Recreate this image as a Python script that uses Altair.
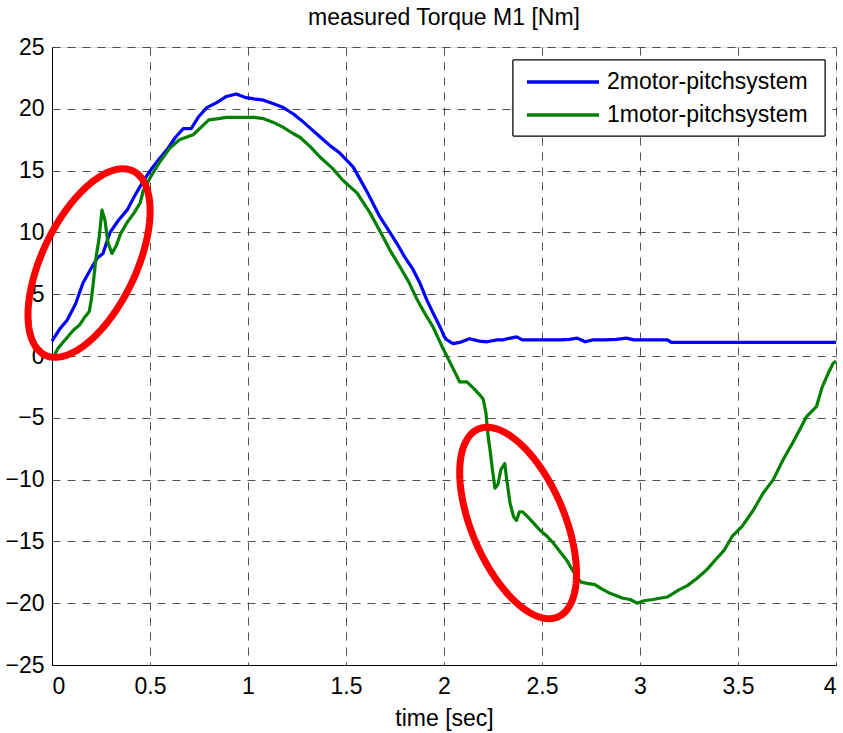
import altair as alt
import numpy as np
import pandas as pd

# Measured torque of motor M1, read at irregular time stamps [sec]
t_two = [0.0, 0.04, 0.077, 0.12, 0.158, 0.2, 0.23, 0.26, 0.296, 0.34, 0.383, 0.42,
         0.449, 0.48, 0.515, 0.55, 0.587, 0.63, 0.67, 0.71, 0.75, 0.79, 0.84, 0.89,
         0.94, 0.99, 1.03, 1.08, 1.13, 1.18, 1.23, 1.27, 1.32, 1.37, 1.42, 1.47,
         1.536, 1.607, 1.673, 1.72, 1.76, 1.80, 1.842, 1.88, 1.913, 1.95, 1.98, 2.0,
         2.015, 2.046, 2.08, 2.13, 2.18, 2.22, 2.27, 2.30, 2.34, 2.37, 2.40, 2.45,
         2.5, 2.55, 2.6, 2.64, 2.68, 2.72, 2.76, 2.82, 2.88, 2.93, 2.97, 3.05, 3.14,
         3.16, 3.5, 4.0]
m_two = [1.2, 2.2, 2.9, 4.2, 5.9, 7.1, 7.9, 8.3, 10.0, 11.0, 11.8, 12.9,
         13.7, 14.5, 15.3, 16.0, 16.7, 17.7, 18.4, 18.4, 19.4, 20.1, 20.5, 21.0,
         21.2, 20.9, 20.8, 20.7, 20.4, 20.1, 19.6, 19.1, 18.4, 17.7, 17.0, 16.4,
         15.3, 13.3, 11.25, 10.1, 9.1, 8.0, 7.0, 5.8, 4.5, 3.3, 2.35, 1.6,
         1.3, 1.0, 1.1, 1.4, 1.2, 1.15, 1.3, 1.3, 1.45, 1.55, 1.3, 1.3,
         1.3, 1.3, 1.3, 1.35, 1.45, 1.15, 1.3, 1.3, 1.35, 1.45, 1.3, 1.3, 1.3,
         1.1, 1.1, 1.1]

t_one = [0.0, 0.03, 0.077, 0.11, 0.14, 0.17, 0.19, 0.2, 0.21, 0.225, 0.24, 0.255,
         0.27, 0.285, 0.306, 0.33, 0.35, 0.383, 0.42, 0.45, 0.466, 0.5, 0.55, 0.6,
         0.65, 0.72, 0.76, 0.80, 0.85, 0.89, 0.94, 0.99, 1.03, 1.08, 1.13, 1.18,
         1.23, 1.265, 1.32, 1.367, 1.43, 1.485, 1.556, 1.622, 1.69, 1.73, 1.776,
         1.82, 1.862, 1.90, 1.944, 1.995, 2.046, 2.08, 2.117, 2.15, 2.18, 2.2,
         2.214, 2.225, 2.235, 2.248, 2.26, 2.275, 2.29, 2.31, 2.32, 2.337, 2.355,
         2.37, 2.385, 2.40, 2.42, 2.45, 2.49, 2.52, 2.556, 2.59, 2.625, 2.655,
         2.678, 2.70, 2.73, 2.77, 2.80, 2.847, 2.88, 2.913, 2.95, 2.985, 3.02,
         3.066, 3.10, 3.14, 3.2, 3.24, 3.29, 3.34, 3.39, 3.43, 3.47, 3.52, 3.577,
         3.628, 3.68, 3.73, 3.78, 3.82, 3.85, 3.9, 3.93, 3.96, 3.985, 4.0]
m_one = [-0.3, 0.6, 1.5, 2.1, 2.5, 3.2, 3.6, 4.5, 5.8, 8.0, 9.5, 11.8,
         11.0, 9.2, 8.3, 9.0, 9.9, 10.8, 11.6, 12.4, 13.4, 14.4, 15.7, 16.8,
         17.5, 17.9, 18.5, 19.1, 19.2, 19.3, 19.3, 19.3, 19.3, 19.2, 18.9, 18.5,
         18.0, 17.7, 16.9, 16.1, 15.2, 14.2, 13.2, 11.6, 9.6, 8.4, 7.2,
         6.0, 4.6, 3.5, 2.35, 0.6, -1.0, -2.1, -2.1, -2.6, -3.1, -3.5,
         -4.6, -6.5, -7.6, -9.3, -10.7, -10.4, -9.2, -8.7, -10.0, -11.9, -13.0,
         -13.3, -12.6, -12.6, -12.9, -13.4, -14.1, -14.5, -15.1, -15.8, -16.5, -17.3,
         -17.9, -18.3, -18.4, -18.5, -18.8, -19.2, -19.4, -19.6, -19.7, -20.0, -19.8,
         -19.7, -19.6, -19.5, -18.9, -18.6, -18.0, -17.3, -16.4, -15.7, -14.6, -13.8, -12.5,
         -11.1, -10.0, -8.4, -7.0, -5.8, -4.9, -4.1, -2.5, -1.4, -0.6, -0.4]

series_names = ["2motor-pitchsystem", "1motor-pitchsystem"]
series_colors = ["#0000FF", "#008000"]

x_ticks = [0, 0.5, 1, 1.5, 2, 2.5, 3, 3.5, 4]
y_ticks = [-25, -20, -15, -10, -5, 0, 5, 10, 15, 20, 25]

# Highlight ellipses: centre (time, torque), semi-axes in screen px, tilt in degrees
ell_cx = [0.189, 2.378]
ell_cy = [7.52, -13.51]
ell_a = [102, 102]
ell_b = [47, 46.5]
ell_tilt = [25.5, -22.9]

W, H = 784, 618
X_DOM, Y_DOM = (0, 4), (-25, 25)
px_x = W / (X_DOM[1] - X_DOM[0])
px_y = H / (Y_DOM[1] - Y_DOM[0])
FS = 23

curves = pd.concat([
    pd.DataFrame({"t": t_two, "M": m_two, "series": series_names[0], "i": range(len(t_two))}),
    pd.DataFrame({"t": t_one, "M": m_one, "series": series_names[1], "i": range(len(t_one))}),
])

rows = []
phi = np.linspace(0, 2 * np.pi, 181)
for k in range(len(ell_cx)):
    th = np.radians(ell_tilt[k])
    # major axis along the screen vertical, tilted by th (positive leans right)
    dx = ell_b[k] * np.cos(phi) * np.cos(th) + ell_a[k] * np.sin(phi) * np.sin(th)
    dy = -ell_b[k] * np.cos(phi) * np.sin(th) + ell_a[k] * np.sin(phi) * np.cos(th)
    for j in range(len(phi)):
        rows.append({"t": ell_cx[k] + dx[j] / px_x, "M": ell_cy[k] + dy[j] / px_y,
                     "e": k, "i": j})
ellipses = pd.DataFrame(rows)

FONT = "Liberation Sans"
xs = alt.Scale(domain=list(X_DOM), nice=False, zero=False)
ys = alt.Scale(domain=list(Y_DOM), nice=False, zero=False)

x_enc = alt.X("t:Q", scale=xs,
              axis=alt.Axis(values=x_ticks, title="time [sec]", format="~g",
                            labelFontSize=FS, titleFontSize=FS, titleFontWeight="normal",
                            labelPadding=10, titlePadding=9, ticks=False,
                            grid=True, gridDash=[8, 7], gridColor="#333333",
                            gridOpacity=0.85, domainColor="black", labelColor="black",
                            titleColor="black", labelFont=FONT, titleFont=FONT))
y_enc = alt.Y("M:Q", scale=ys,
              axis=alt.Axis(values=y_ticks, title=None,
                            labelFontSize=FS, labelPadding=8, ticks=False,
                            grid=True, gridDash=[8, 7], gridColor="#333333",
                            gridOpacity=0.85, domainColor="black", labelColor="black",
                            labelFont=FONT))

ring = alt.Chart(ellipses).mark_line(color="#FF0000", strokeWidth=7, clip=False).encode(
    x=alt.X("t:Q", scale=xs), y=alt.Y("M:Q", scale=ys),
    detail="e:N", order="i:Q")

lines = alt.Chart(curves).mark_line(strokeWidth=3.2, strokeJoin="round").encode(
    x=x_enc, y=y_enc,
    color=alt.Color("series:N",
                    scale=alt.Scale(domain=series_names, range=series_colors),
                    legend=None),
    order="i:Q")

# Legend box in the upper right corner of the axes
legend_df = pd.DataFrame({"series": series_names, "row": [0, 1]})
box = alt.Chart(legend_df).mark_rect(fill="white", stroke="black", strokeWidth=1).encode(
    x=alt.value(461), x2=alt.value(773), y=alt.value(13), y2=alt.value(89))
legend_layers = [box]
for k, name in enumerate(series_names):
    row_y = 35 + 33 * k
    base = alt.Chart(legend_df).transform_filter(alt.datum.row == k)
    legend_layers.append(base.mark_rule(strokeWidth=3.5, color=series_colors[k]).encode(
        x=alt.value(475), x2=alt.value(547), y=alt.value(row_y)))
    legend_layers.append(base.mark_text(align="left", baseline="middle", fontSize=FS,
                                        font=FONT, color="black").encode(
        x=alt.value(555), y=alt.value(row_y), text="series:N"))

chart = alt.layer(lines, ring, *legend_layers).properties(
    width=W, height=H,
    title=alt.Title("measured Torque M1 [Nm]", fontSize=FS, fontWeight="normal",
                    font=FONT, color="black", offset=6),
    autosize=alt.AutoSizeParams(type="none"),
    padding={"left": 52, "top": 47, "right": 7, "bottom": 68},
).configure_view(stroke="black", strokeWidth=1).configure(background="white")

chart.save("out.html", embed_options={"renderer": "svg", "actions": False})
